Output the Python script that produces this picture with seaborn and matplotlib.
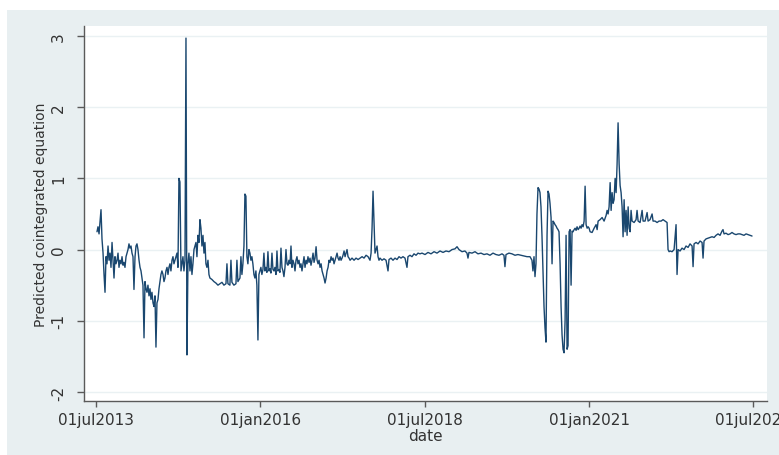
import matplotlib
matplotlib.use("Agg")
import matplotlib.pyplot as plt
import seaborn as sns
import pandas as pd
import numpy as np

# ---- data: decimal year, predicted cointegrated equation ----
year_dec = [
    2013.511, 2013.526, 2013.542, 2013.557, 2013.572, 2013.587, 2013.603, 2013.618, 2013.633, 2013.648,
    2013.663, 2013.679, 2013.694, 2013.709, 2013.724, 2013.740, 2013.755, 2013.770, 2013.785, 2013.800,
    2013.816, 2013.831, 2013.846, 2013.861, 2013.877, 2013.892, 2013.907, 2013.922, 2013.937, 2013.953,
    2013.968, 2013.983, 2013.998, 2014.013, 2014.029, 2014.044, 2014.059, 2014.074, 2014.090, 2014.105,
    2014.120, 2014.135, 2014.151, 2014.166, 2014.181, 2014.196, 2014.211, 2014.227, 2014.242, 2014.257,
    2014.272, 2014.287, 2014.303, 2014.318, 2014.333, 2014.348, 2014.364, 2014.379, 2014.394, 2014.409,
    2014.424, 2014.440, 2014.455, 2014.470, 2014.485, 2014.500, 2014.516, 2014.531, 2014.546, 2014.561,
    2014.577, 2014.592, 2014.607, 2014.622, 2014.637, 2014.653, 2014.668, 2014.683, 2014.698, 2014.714,
    2014.729, 2014.744, 2014.759, 2014.774, 2014.790, 2014.805, 2014.820, 2014.835, 2014.851, 2014.866,
    2014.881, 2014.896, 2014.911, 2014.927, 2014.942, 2014.957, 2014.972, 2014.988, 2015.003, 2015.018,
    2015.033, 2015.048, 2015.064, 2015.079, 2015.094, 2015.109, 2015.125, 2015.140, 2015.155, 2015.170,
    2015.185, 2015.201, 2015.216, 2015.231, 2015.261, 2015.292, 2015.322, 2015.353, 2015.383, 2015.414,
    2015.444, 2015.475, 2015.490, 2015.505, 2015.535, 2015.551, 2015.566, 2015.596, 2015.627, 2015.642,
    2015.657, 2015.688, 2015.703, 2015.718, 2015.733, 2015.749, 2015.764, 2015.779, 2015.794, 2015.809,
    2015.825, 2015.840, 2015.855, 2015.870, 2015.885, 2015.901, 2015.916, 2015.931, 2015.946, 2015.962,
    2015.977, 2015.992,
    2016.007, 2016.022, 2016.038, 2016.053, 2016.068, 2016.083, 2016.098, 2016.114, 2016.129, 2016.144,
    2016.159, 2016.175, 2016.190, 2016.205, 2016.220, 2016.236, 2016.251, 2016.266, 2016.281, 2016.296,
    2016.312, 2016.327, 2016.342, 2016.357, 2016.373, 2016.388, 2016.403, 2016.418, 2016.433, 2016.449,
    2016.464, 2016.479, 2016.494, 2016.510, 2016.525, 2016.540, 2016.555, 2016.570, 2016.586, 2016.601,
    2016.616, 2016.631, 2016.646, 2016.662, 2016.677, 2016.692, 2016.707, 2016.722, 2016.738, 2016.753,
    2016.768, 2016.783, 2016.799, 2016.814, 2016.829, 2016.845, 2016.860, 2016.875, 2016.890, 2016.905,
    2016.921, 2016.936, 2016.951, 2016.966, 2016.981, 2016.997, 2017.012, 2017.027, 2017.042, 2017.057,
    2017.073, 2017.088, 2017.103, 2017.118, 2017.134, 2017.149, 2017.164, 2017.179, 2017.194, 2017.210,
    2017.225, 2017.240, 2017.255, 2017.271, 2017.286, 2017.301, 2017.316, 2017.331, 2017.347, 2017.362,
    2017.392, 2017.423, 2017.453, 2017.484, 2017.514, 2017.545, 2017.575, 2017.606, 2017.636, 2017.666,
    2017.682, 2017.697, 2017.712, 2017.727, 2017.742, 2017.758, 2017.773, 2017.788, 2017.803, 2017.818,
    2017.849, 2017.879, 2017.910, 2017.940, 2017.955, 2017.986, 2018.016, 2018.047, 2018.077, 2018.108,
    2018.138, 2018.168, 2018.199, 2018.229, 2018.244, 2018.275, 2018.305, 2018.336, 2018.367, 2018.397,
    2018.427,
    2018.458, 2018.504, 2018.549, 2018.595, 2018.641, 2018.686, 2018.732, 2018.778, 2018.823, 2018.869,
    2018.915, 2018.960, 2018.991, 2019.021, 2019.067, 2019.112, 2019.143, 2019.158, 2019.173, 2019.219,
    2019.265, 2019.310, 2019.356, 2019.402, 2019.447, 2019.493, 2019.539, 2019.584, 2019.630, 2019.676,
    2019.706, 2019.721, 2019.737, 2019.782, 2019.828, 2019.874, 2019.919, 2019.965, 2020.011, 2020.056,
    2020.102, 2020.132, 2020.147, 2020.163, 2020.178, 2020.193, 2020.208, 2020.224, 2020.239, 2020.254,
    2020.269, 2020.284, 2020.300, 2020.315, 2020.330, 2020.345, 2020.361, 2020.376, 2020.391, 2020.406,
    2020.422, 2020.437, 2020.452, 2020.467, 2020.482, 2020.498, 2020.513, 2020.528, 2020.543, 2020.559,
    2020.574, 2020.589, 2020.604, 2020.619, 2020.635, 2020.650, 2020.665, 2020.680, 2020.696, 2020.711,
    2020.726, 2020.741, 2020.756, 2020.772, 2020.787, 2020.802, 2020.817, 2020.833, 2020.848, 2020.863,
    2020.878, 2020.893, 2020.909, 2020.924, 2020.939, 2020.954, 2020.970, 2020.985, 2021.000,
    2021.015, 2021.045, 2021.076, 2021.106, 2021.122, 2021.137, 2021.167, 2021.198, 2021.228, 2021.259,
    2021.274, 2021.289, 2021.304, 2021.320, 2021.335, 2021.350, 2021.365, 2021.380, 2021.396, 2021.411,
    2021.426, 2021.441, 2021.457, 2021.472, 2021.487, 2021.502, 2021.517, 2021.533, 2021.548, 2021.563,
    2021.578, 2021.594, 2021.609, 2021.624, 2021.639, 2021.654, 2021.685, 2021.715, 2021.730, 2021.746,
    2021.776, 2021.807, 2021.822, 2021.852, 2021.883, 2021.898, 2021.928, 2021.959, 2021.974, 2022.004,
    2022.035, 2022.065, 2022.096, 2022.126, 2022.157, 2022.187, 2022.202, 2022.218, 2022.233, 2022.263,
    2022.294, 2022.324, 2022.339, 2022.355, 2022.385, 2022.415, 2022.446, 2022.476, 2022.507, 2022.537,
    2022.568, 2022.583, 2022.598, 2022.629, 2022.659, 2022.690, 2022.720, 2022.735, 2022.750, 2022.781,
    2022.811, 2022.842, 2022.872, 2022.903, 2022.933, 2022.963, 2022.994, 2023.024, 2023.039, 2023.055,
    2023.085, 2023.116, 2023.146, 2023.176, 2023.207, 2023.237, 2023.268, 2023.298, 2023.329, 2023.359,
    2023.390, 2023.420, 2023.450, 2023.481,
]

predicted = [
    0.25, 0.32, 0.22, 0.40, 0.56, 0.15, -0.05, -0.35, -0.60, -0.10,
    -0.20, 0.05, -0.15, -0.05, -0.25, 0.10, -0.15, -0.40, -0.10, -0.20,
    -0.15, -0.05, -0.25, -0.15, -0.20, -0.10, -0.22, -0.18, -0.25, -0.10,
    -0.05, 0.00, 0.08, 0.02, 0.05, -0.05, -0.10, -0.56, -0.10, 0.05,
    0.08, 0.00, -0.15, -0.25, -0.30, -0.40, -0.50, -1.24, -0.45, -0.55,
    -0.60, -0.50, -0.65, -0.55, -0.70, -0.60, -0.75, -0.80, -0.65, -1.37,
    -0.75, -0.70, -0.55, -0.45, -0.35, -0.30, -0.35, -0.45, -0.40, -0.30,
    -0.25, -0.35, -0.25, -0.20, -0.30, -0.15, -0.10, -0.20, -0.15, -0.10,
    -0.05, -0.25, 1.00, 0.95, -0.30, -0.20, -0.10, -0.30, -0.15, 2.97,
    -1.48, -0.20, -0.05, -0.30, -0.10, -0.35, -0.20, 0.00, 0.05, 0.10,
    -0.10, 0.20, 0.10, 0.42, 0.30, 0.05, 0.20, -0.05, 0.10, -0.20,
    -0.25, -0.15, -0.35, -0.40, -0.42, -0.45, -0.47, -0.50, -0.48, -0.46,
    -0.50, -0.48, -0.20, -0.48, -0.50, -0.15, -0.46, -0.50, -0.48, -0.15,
    -0.45, -0.40, -0.10, -0.35, -0.20, 0.05, 0.78, 0.75, -0.10, -0.20,
    0.00, -0.05, -0.15, -0.10, -0.20, -0.35, -0.40, -0.30, -0.50, -1.27,
    -0.35, -0.30,
    -0.25, -0.35, -0.28, -0.05, -0.30, -0.25, -0.32, -0.03, -0.30, -0.27,
    -0.33, -0.05, -0.28, -0.30, -0.25, -0.35, -0.02, -0.30, -0.28, -0.32,
    0.02, -0.25, -0.30, -0.38, -0.25, 0.00, -0.20, -0.22, -0.15, -0.20,
    0.05, -0.25, -0.15, -0.20, -0.30, -0.15, -0.10, -0.20, -0.15, -0.25,
    -0.20, -0.30, -0.20, -0.10, -0.25, -0.15, -0.20, -0.10, -0.18, -0.12,
    -0.22, -0.15, -0.05, -0.18, -0.12, 0.04, -0.15, -0.20, -0.15, -0.25,
    -0.20, -0.30, -0.35, -0.40, -0.47, -0.40, -0.30, -0.25, -0.15, -0.18,
    -0.10, -0.15, -0.12, -0.20, -0.15, -0.10, -0.05, -0.12, -0.15, -0.10,
    -0.15, -0.12, -0.08, -0.02, -0.10, -0.05, 0.00, -0.10, -0.12, -0.15,
    -0.12, -0.15, -0.12, -0.14, -0.12, -0.10, -0.12, -0.08, -0.10, -0.15,
    -0.05, 0.30, 0.82, 0.40, -0.05, 0.00, 0.05, -0.10, -0.15, -0.12,
    -0.15, -0.13, -0.15, -0.30, -0.14, -0.12, -0.15, -0.12, -0.14, -0.10,
    -0.12, -0.10, -0.12, -0.25, -0.10, -0.08, -0.10, -0.06, -0.08, -0.05,
    -0.06,
    -0.05, -0.07, -0.04, -0.06, -0.03, -0.05, -0.02, -0.04, -0.02, -0.03,
    0.00, 0.01, 0.04, 0.00, -0.03, -0.02, -0.05, -0.12, -0.04, -0.05,
    -0.03, -0.06, -0.05, -0.07, -0.06, -0.08, -0.05, -0.07, -0.08, -0.06,
    -0.08, -0.24, -0.07, -0.05, -0.06, -0.08, -0.07, -0.08, -0.09, -0.10,
    -0.10, -0.15, -0.30, -0.10, -0.38, -0.20, 0.50, 0.87, 0.85, 0.80,
    0.60, 0.20, -0.30, -0.80, -1.10, -1.30, 0.20, 0.82, 0.78, 0.65,
    0.45, -0.20, 0.40, 0.38, 0.35, 0.33, 0.30, 0.28, 0.25, -0.20,
    -0.80, -1.20, -1.40, -1.45, -1.00, 0.20, -1.40, -1.35, 0.25, 0.28,
    -0.50, 0.26, 0.25, 0.28, 0.30, 0.27, 0.32, 0.28, 0.30, 0.33,
    0.30, 0.35, 0.32, 0.40, 0.89, 0.35, 0.30, 0.32, 0.30,
    0.25, 0.24, 0.30, 0.35, 0.28, 0.40, 0.42, 0.45, 0.40, 0.48,
    0.55, 0.50, 0.60, 0.94, 0.55, 0.80, 0.65, 0.70, 1.00, 0.80,
    1.20, 1.78, 1.20, 0.90, 0.80, 0.60, 0.18, 0.70, 0.25, 0.55,
    0.20, 0.60, 0.30, 0.25, 0.55, 0.40, 0.38, 0.42, 0.55, 0.40,
    0.38, 0.55, 0.40, 0.40, 0.52, 0.40, 0.42, 0.50, 0.40, 0.40,
    0.38, 0.40, 0.40, 0.42, 0.40, 0.38, 0.00, -0.03, -0.02, -0.03,
    0.00, 0.35, -0.35, 0.00, -0.02, 0.02, 0.00, 0.05, 0.03, 0.08,
    0.05, -0.24, 0.08, 0.10, 0.08, 0.12, 0.10, -0.12, 0.12, 0.15,
    0.16, 0.17, 0.18, 0.17, 0.20, 0.22, 0.20, 0.26, 0.28, 0.22,
    0.23, 0.21, 0.22, 0.24, 0.22, 0.21, 0.22, 0.22, 0.21, 0.20,
    0.22, 0.21, 0.20, 0.19,
]

tick_dates = ["2013-07-01", "2016-01-01", "2018-07-01", "2021-01-01", "2023-07-01"]
y_ticks = [-2, -1, 0, 1, 2, 3]


def dec_to_ts(y):
    yr = int(y)
    start = pd.Timestamp(yr, 1, 1)
    end = pd.Timestamp(yr + 1, 1, 1)
    return start + (end - start) * (y - yr)


df = pd.DataFrame({"date": [dec_to_ts(v) for v in year_dec], "pred": predicted})

sns.set_style("white")
plt.rcParams["font.family"] = ["DejaVu Sans"]

W, H = 779, 456
fig = plt.figure(figsize=(W / 100, H / 100), dpi=100)
fig.patch.set_facecolor("white")

# Stata-like graph region (background axes)
bg = fig.add_axes([7 / W, 0, 1 - 7 / W, 1 - 11 / H], zorder=-5)
bg.set_facecolor("#e8eff1")
bg.set_xticks([])
bg.set_yticks([])
for s in bg.spines.values():
    s.set_visible(False)

ax = fig.add_axes([84 / W, 1 - 402 / H, (767 - 84) / W, (402 - 27) / H], zorder=1)
ax.set_facecolor("white")

sns.lineplot(data=df, x="date", y="pred", ax=ax, color="#1a476f", linewidth=1.0,
             sort=False, estimator=None)

ax.set_ylim(-2.127, 3.14)
ax.set_xlim(dec_to_ts(2013.313), dec_to_ts(2023.709))

ax.set_yticks(y_ticks)
ax.set_yticklabels([str(t) for t in y_ticks], rotation=90, va="center")
xt = [pd.Timestamp(d) for d in tick_dates]
ax.set_xticks(xt)
ax.set_xticklabels([t.strftime("%d%b%Y").lower() for t in xt])

ax.grid(axis="y", color="#eaf1f3", linewidth=1.0)
ax.grid(axis="x", visible=False)
ax.set_axisbelow(True)

for s in ["top", "right"]:
    ax.spines[s].set_visible(False)
for s in ["left", "bottom"]:
    ax.spines[s].set_color("#5a5a5a")
    ax.spines[s].set_linewidth(1.0)

ax.tick_params(axis="both", which="major", direction="out", width=1.0,
               color="#5a5a5a", labelsize=11, labelcolor="#333333")
ax.tick_params(axis="y", length=5, pad=8)
ax.tick_params(axis="x", length=4, pad=4)
ax.tick_params(left=True, bottom=True)

ax.set_xlabel("date", fontsize=11, color="#333333", labelpad=1)
ax.set_ylabel("Predicted cointegrated equation", fontsize=10, color="#333333", labelpad=2)

fig.savefig("out.png", dpi=100, facecolor=fig.get_facecolor())
